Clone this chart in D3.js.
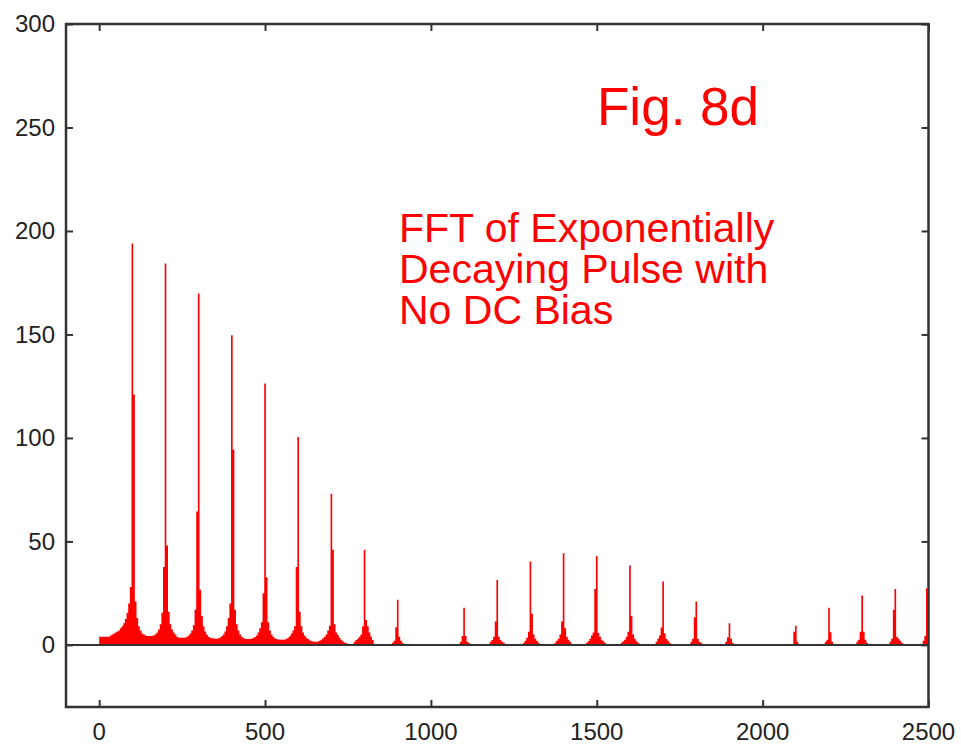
<!DOCTYPE html>
<html>
<head>
<meta charset="utf-8">
<script src="https://cdn.jsdelivr.net/npm/d3@7"></script>
<style>
  html, body { margin: 0; padding: 0; background: #fff; }
  svg { display: block; }
  text { font-family: "Liberation Sans", Arial, sans-serif; }
</style>
</head>
<body>
<svg id="chart" width="961" height="747"></svg>
<script>
// ---- Data ----
const binWidth = 5;                       // frequency bin width (x units)
const xTicks = [0, 500, 1000, 1500, 2000, 2500];
const yTicks = [0, 50, 100, 150, 200, 250, 300];
const titleText = "Fig. 8d";
const noteLines = ["FFT of Exponentially", "Decaying Pulse with", "No DC Bias"];

// start frequency of each contiguous run of bins
const segmentStart = [0, 885, 1090, 1180, 1280, 1375, 1470, 1575, 1680, 1785, 1890, 2095, 2190, 2285, 2385, 2485];
// magnitudes of consecutive bins in each run
const segmentValues = [
  [ // 0 .. 845
    4,4,4,4,4,4,4,4.5,5,5.5,
    6,6.5,7,8,9,10.5,12.5,15.5,20,28,194,121,21,13,9,7,5.5,5,4.5,4.3,
    4.3,4.3,4.4,4.6,5.2,6,7.5,10,15.5,37.6,184.3,48,16,10,7.5,6,5,4,3.6,3.4,
    3.4,3.4,3.6,4,4.6,5.5,7,9.5,17,64.5,169.8,26.6,14,9,6.5,5,4,3.5,3.2,3.2,
    3,3,3.2,3.6,4.2,5,6.5,9,13,20,149.6,94.3,17,10,7,5,4,3.3,3,2.9,
    2.9,2.9,3,3.3,3.8,4.6,6,8,11,25,126.3,32.7,11,7,5,4,3.2,2.8,2.6,2.6,
    2.5,2.5,2.6,3,3.5,4.2,5.5,7,9,37.6,100.5,16,9,6,4.5,3.5,2.8,2.2,1.8,1.6,
    1.5,1.5,1.6,2,2.5,3.2,4,5,7,9.2,73,46,10,6,4.8,3.5,2.5,1.8,1.2,0.8,
    0.5,0,0,0,1.5,2.4,3,4,5,9,46,12,9,6,4,2.4,0,0,0,0
  ],
  [1, 2, 8.5, 21.8, 3.9, 2, 1],
  [1.5, 4.3, 18, 4.3, 1.5, 1],
  [1.5, 2.4, 4, 11.3, 31.4, 4, 2.4, 1.5, 1],
  [1, 2, 3.5, 6.4, 40.3, 15, 5, 3, 2, 1],
  [1, 2, 3, 5, 11.3, 44.3, 8, 4, 2.5, 1.5, 0.5],
  [1, 1.8, 3, 4.5, 6, 27, 43, 5.8, 4, 2.5, 1.8, 1],
  [1, 1.8, 2.5, 4, 6.4, 38.4, 14, 5, 3, 1.8, 1],
  [1.5, 3, 4.5, 8.4, 30.6, 5.6, 3, 2, 1],
  [1.5, 3, 13.4, 21, 3, 1.5, 1],
  [1.5, 3.7, 10.5, 3, 1],
  [6.4, 9.2, 1.5],
  [1.5, 2.5, 18, 6.1, 1.5],
  [1.5, 2.5, 6.4, 23.9, 6.4, 2.5, 1],
  [1.5, 3, 17, 27, 4, 3, 2, 1],
  [2, 4.3, 27.4]
];

// ---- Layout ----
const svg = d3.select("#chart");
const plotL = 66, plotR = 928.5, plotT = 24, plotB = 707;
const x = d3.scaleLinear().domain([-100, 2500]).range([plotL, plotR]);
const y = d3.scaleLinear().domain([-30, 300]).range([plotB, plotT]);
const axisColor = "#333";
const red = "#ff0000";

svg.append("defs").append("clipPath").attr("id", "plotclip")
  .append("rect").attr("x", x(0)).attr("y", plotT).attr("width", x(2500) - x(0)).attr("height", plotB - plotT);

// spectrum as stepped areas
const area = d3.area()
  .curve(d3.curveStepAfter)
  .x(d => x(d.f))
  .y0(y(0))
  .y1(d => y(d.v));

const segs = segmentStart.map((s, i) => {
  const vals = segmentValues[i];
  const pts = vals.map((v, j) => ({ f: s + j * binWidth - binWidth / 2, v }));
  pts.push({ f: s + vals.length * binWidth - binWidth / 2, v: 0 });
  return pts;
});

svg.append("g").attr("clip-path", "url(#plotclip)")
  .selectAll("path").data(segs).join("path")
  .attr("d", area)
  .attr("fill", red)
  .attr("stroke", "none");

// zero line
svg.append("line")
  .attr("x1", plotL).attr("x2", plotR)
  .attr("y1", y(0)).attr("y2", y(0))
  .attr("stroke", axisColor).attr("stroke-width", 2);

// axes with inward ticks, mirrored on all sides
const tick = 7;
svg.append("g").attr("transform", `translate(0,${plotB})`)
  .call(d3.axisTop(x).tickValues(xTicks).tickSize(tick).tickFormat(""))
  .call(g => g.select(".domain").remove())
  .call(g => g.selectAll("line").attr("stroke", axisColor).attr("stroke-width", 2));
svg.append("g").attr("transform", `translate(0,${plotT})`)
  .call(d3.axisBottom(x).tickValues(xTicks).tickSize(tick).tickFormat(""))
  .call(g => g.select(".domain").remove())
  .call(g => g.selectAll("line").attr("stroke", axisColor).attr("stroke-width", 2));
svg.append("g").attr("transform", `translate(${plotL},0)`)
  .call(d3.axisRight(y).tickValues(yTicks).tickSize(tick).tickFormat(""))
  .call(g => g.select(".domain").remove())
  .call(g => g.selectAll("line").attr("stroke", axisColor).attr("stroke-width", 2));
svg.append("g").attr("transform", `translate(${plotR},0)`)
  .call(d3.axisLeft(y).tickValues(yTicks).tickSize(tick).tickFormat(""))
  .call(g => g.select(".domain").remove())
  .call(g => g.selectAll("line").attr("stroke", axisColor).attr("stroke-width", 2));

// frame
svg.append("rect")
  .attr("x", plotL).attr("y", plotT)
  .attr("width", plotR - plotL).attr("height", plotB - plotT)
  .attr("fill", "none").attr("stroke", axisColor).attr("stroke-width", 2.5);

// tick labels
svg.append("g").selectAll("text").data(yTicks).join("text")
  .attr("x", 55).attr("y", d => y(d)).attr("dy", "0.35em")
  .attr("text-anchor", "end").attr("font-size", 24).attr("fill", "#222")
  .text(d => d);
svg.append("g").selectAll("text").data(xTicks).join("text")
  .attr("x", d => x(d)).attr("y", 740)
  .attr("text-anchor", "middle").attr("font-size", 24).attr("fill", "#222")
  .text(d => d);

// annotations
svg.append("text")
  .attr("x", 597).attr("y", 125)
  .attr("font-size", 53).attr("fill", red)
  .text(titleText);
svg.append("text")
  .attr("x", 399).attr("y", 242)
  .attr("font-size", 41).attr("fill", red)
  .selectAll("tspan").data(noteLines).join("tspan")
  .attr("x", 399).attr("dy", (d, i) => i === 0 ? 0 : 41)
  .text(d => d);
</script>
</body>
</html>
